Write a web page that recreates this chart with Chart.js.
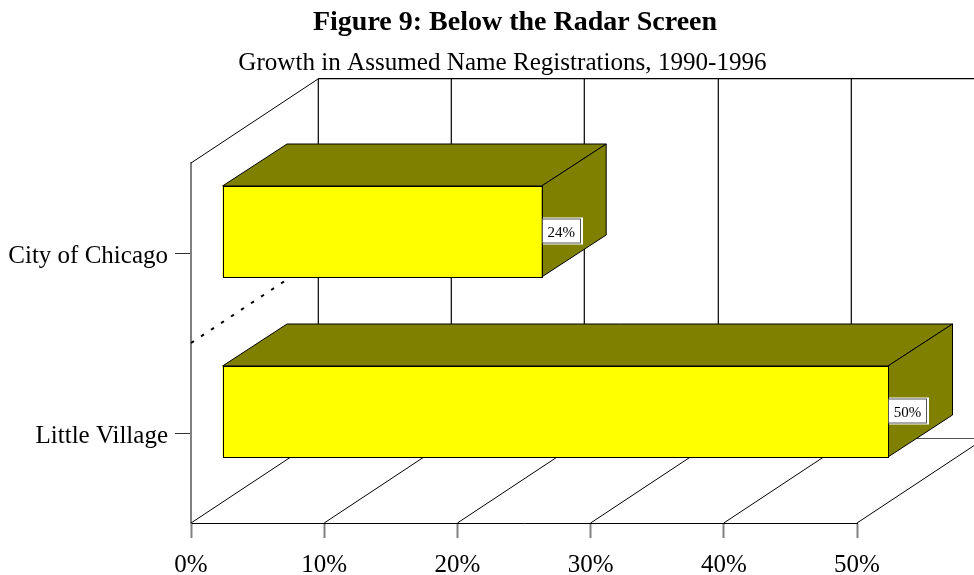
<!DOCTYPE html>
<html><head><meta charset="utf-8">
<style>html,body{margin:0;padding:0;background:#fff;overflow:hidden}#c{display:block}</style>
<script src="https://cdn.jsdelivr.net/npm/chart.js@4"></script>
</head><body><canvas id="c" width="974" height="575"></canvas>
<script>
const titleText = "Figure 9: Below the Radar Screen";
const subtitleText = "Growth in Assumed Name Registrations, 1990-1996";
const categories = ["City of Chicago", "Little Village"];
const growth = [24, 50];
const axisMax = 50;
const axisStep = 10;

const SERIF = '"Liberation Serif","Times New Roman",serif';
const wall = {dx:127, dy:-84};
const barNear = {dx:31, dy:-21.5};
const barDepth = {dx:64.5, dy:-42};

function seg(ctx,x1,y1,x2,y2,color,w){
  ctx.beginPath();ctx.moveTo(x1,y1);ctx.lineTo(x2,y2);
  ctx.strokeStyle=color;ctx.lineWidth=w;ctx.stroke();
}
function poly(ctx,pts,fill){
  ctx.beginPath();pts.forEach((p,i)=>i?ctx.lineTo(p[0],p[1]):ctx.moveTo(p[0],p[1]));ctx.closePath();
  ctx.fillStyle=fill;ctx.fill();ctx.strokeStyle='#000';ctx.lineWidth=1;ctx.lineJoin='round';ctx.stroke();
}
const threeD = {
  id:'threeD',
  beforeDatasetsDraw(chart){
    const ctx=chart.ctx,x=chart.scales.x,a=chart.chartArea;
    ctx.save();
    const backTop=a.top+wall.dy, backBot=a.bottom+wall.dy;
    seg(ctx,a.left,a.top,a.left+wall.dx,backTop,'#000',1);
    seg(ctx,a.left+wall.dx,backTop-.4,a.right+wall.dx,backTop-.4,'#000',1.3);
    seg(ctx,a.left+wall.dx,backBot-.5,a.right+wall.dx,backBot-.5,'#555',1);
    for(let v=0;v<=axisMax;v+=axisStep){
      const p=x.getPixelForValue(v);
      const bx=Math.round(p+wall.dx)+.3;
      seg(ctx,bx,backTop,bx,backBot,'#000',1.2);
      seg(ctx,p,a.bottom,p+wall.dx,backBot,'#000',1);
    }
    const y0=(chart.scales.y.getPixelForValue(0)+chart.scales.y.getPixelForValue(1))/2;
    ctx.setLineDash([3.5,8.5]);
    seg(ctx,a.left,y0,a.left+wall.dx,y0+wall.dy,'#000',2);
    ctx.setLineDash([]);
    ctx.restore();
  },
  beforeDatasetDraw(chart){
    const ctx=chart.ctx;
    ctx.save();
    chart.getDatasetMeta(0).data.forEach(b=>{
      const X=b.x+barNear.dx, T=b.y-b.height/2+barNear.dy, B=b.y+b.height/2+barNear.dy, L=b.base+barNear.dx;
      poly(ctx,[[L,T],[L+barDepth.dx,T+barDepth.dy],[X+barDepth.dx,T+barDepth.dy],[X,T]],'#808000');
      poly(ctx,[[X,T],[X+barDepth.dx,T+barDepth.dy],[X+barDepth.dx,B+barDepth.dy],[X,B]],'#808000');
    });
    ctx.restore();
    ctx.save();
    ctx.translate(barNear.dx,barNear.dy);
  },
  afterDatasetDraw(chart){
    const ctx=chart.ctx;
    ctx.restore();
    ctx.save();
    chart.getDatasetMeta(0).data.forEach((b,i)=>{
      const X=b.x+barNear.dx, cy=b.y+barNear.dy, T=b.y-b.height/2+barNear.dy, L=b.base+barNear.dx;
      ctx.strokeStyle='#000';ctx.lineWidth=1;
      ctx.strokeRect(Math.round(L)+.5,Math.round(T)+.5,Math.round(X)-Math.round(L),Math.round(b.height));
      ctx.fillStyle='#fff';ctx.fillRect(Math.round(X)+1,cy-14,40,27);
      ctx.strokeStyle='#555';ctx.lineWidth=1;ctx.strokeRect(Math.round(X)+.5,cy-12.5,38,24);
      ctx.fillStyle='#000';ctx.font='15px '+SERIF;ctx.textAlign='center';ctx.textBaseline='middle';
      ctx.fillText(growth[i]+'%',X+19.5,cy+2);
    });
    ctx.restore();
  },
  afterDraw(chart){
    const ctx=chart.ctx;
    ctx.save();
    ctx.fillStyle='#000';ctx.textAlign='center';ctx.textBaseline='alphabetic';
    ctx.font='bold 28px '+SERIF;ctx.fillText(titleText,515,30);
    ctx.font='25.1px '+SERIF;ctx.fillText(subtitleText,502.5,70);
    ctx.restore();
  }
};
new Chart(document.getElementById('c'),{
  type:'bar',
  data:{labels:categories,datasets:[{
    data:growth,backgroundColor:'#ffff00',borderColor:'#ffff00',borderWidth:0,borderSkipped:false,
    barPercentage:91/180,categoryPercentage:1,clip:false
  }]},
  options:{
    indexAxis:'y',responsive:false,animation:false,
    layout:{padding:{top:163,right:117,left:0,bottom:0}},
    plugins:{legend:{display:false},tooltip:{enabled:false},title:{display:false}},
    scales:{
      x:{min:0,max:axisMax,
        afterFit(s){s.height=52;},
        grid:{drawOnChartArea:false,tickLength:15,tickColor:'#808080',tickWidth:2},
        border:{color:'#000',width:1},
        ticks:{stepSize:axisStep,padding:12,color:'#000',maxRotation:0,font:{family:SERIF,size:25},callback:v=>v+'%'}},
      y:{
        afterFit(s){s.width=191;},
        grid:{offset:false,drawOnChartArea:false,tickLength:16,tickColor:'#333',tickWidth:1},
        border:{color:'#808080',width:2},
        ticks:{padding:7,labelOffset:3,color:'#000',font:{family:SERIF,size:25}}}
    }
  },
  plugins:[threeD]
});
</script></body></html>
